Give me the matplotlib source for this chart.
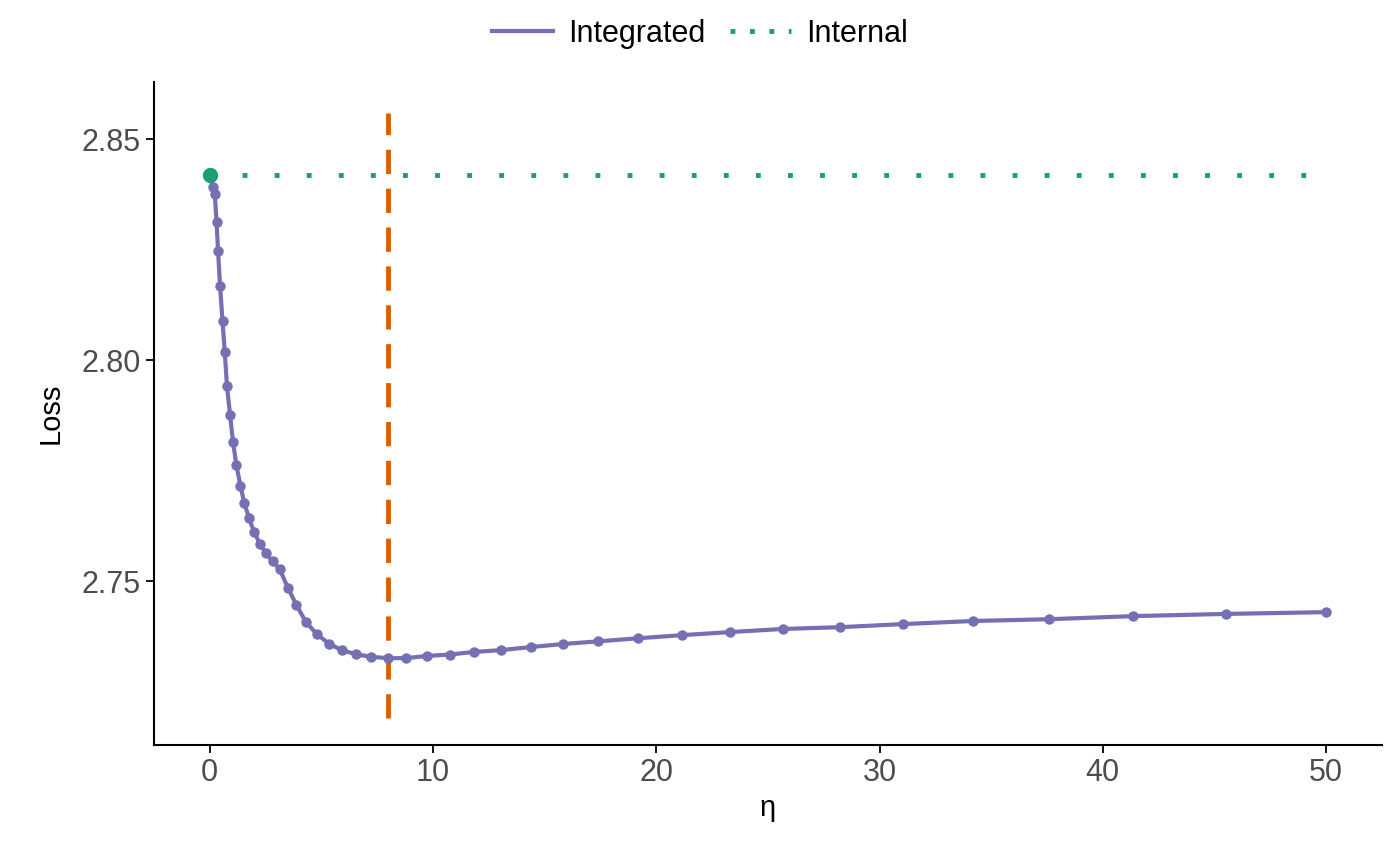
import matplotlib
matplotlib.use("Agg")
import matplotlib.pyplot as plt
from matplotlib.lines import Line2D

plt.rcParams['font.family'] = ['Liberation Sans', 'DejaVu Sans']

eta = [0, 0.148, 0.224, 0.30, 0.37, 0.46, 0.57, 0.67, 0.77, 0.91, 1.04, 1.19, 1.37, 1.55,
       1.76, 1.98, 2.24, 2.51, 2.81, 3.13, 3.51, 3.88, 4.30, 4.80, 5.33, 5.90, 6.54, 7.21,
       7.99, 8.81, 9.73, 10.74, 11.82, 13.03, 14.37, 15.84, 17.41, 19.20, 21.17, 23.32,
       25.67, 28.22, 31.05, 34.18, 37.58, 41.34, 45.50, 50.0]
loss = [2.8419, 2.8392, 2.8375, 2.8313, 2.8247, 2.8167, 2.8088, 2.8018, 2.7941, 2.7875,
        2.7815, 2.7763, 2.7716, 2.7676, 2.7642, 2.7612, 2.7585, 2.7563, 2.7545, 2.7527,
        2.7484, 2.7446, 2.7408, 2.7380, 2.7359, 2.7344, 2.7335, 2.7329, 2.7326, 2.7326,
        2.7331, 2.7334, 2.7340, 2.7344, 2.7351, 2.7358, 2.7364, 2.7371, 2.7378, 2.7385,
        2.7392, 2.7396, 2.7403, 2.7410, 2.7414, 2.7421, 2.7426, 2.7430]
internal_loss = 2.8419
best_eta = 8.0

purple = '#7570B3'
green = '#1B9E77'
orange = '#D95F02'

fig = plt.figure(figsize=(14, 8.65), dpi=100)
ax = fig.add_axes([0.11, 0.139, 0.877, 0.766])

ax.plot(eta, loss, color=purple, lw=3, marker='o', ms=6.5, zorder=3)
ax.plot([0, 50], [internal_loss, internal_loss], color=green, lw=3.5, ls=(0, (1, 5.6)), zorder=2)
ax.plot([0], [internal_loss], 'o', color=green, ms=10, zorder=4)
ax.plot([best_eta, best_eta], [2.719, 2.856], color=orange, lw=3.5, ls=(0, (5, 3)), zorder=2)

ax.set_xlim(-2.5, 52.5)
ax.set_ylim(2.713, 2.8629)
ax.set_xticks([0, 10, 20, 30, 40, 50])
ax.set_yticks([2.75, 2.80, 2.85])
ax.set_yticklabels(['2.75', '2.80', '2.85'])
for s in ['top', 'right']:
    ax.spines[s].set_visible(False)
for s in ['left', 'bottom']:
    ax.spines[s].set_linewidth(1.5)
ax.tick_params(labelsize=22, labelcolor='#4D4D4D', width=1.3, length=6)
ax.set_xlabel('η', fontsize=21, labelpad=4)
ax.set_ylabel('Loss', fontsize=21, labelpad=12)

handles = [Line2D([], [], color=purple, lw=3),
           Line2D([], [], color=green, lw=3.5, ls=(0, (1, 3)))]
fig.legend(handles, ['Integrated', 'Internal'], loc='upper center', ncol=2,
           frameon=False, fontsize=22, bbox_to_anchor=(0.5, 1.01), handlelength=2,
           columnspacing=0.8, handletextpad=0.5)

fig.savefig('out.png', dpi=100)
